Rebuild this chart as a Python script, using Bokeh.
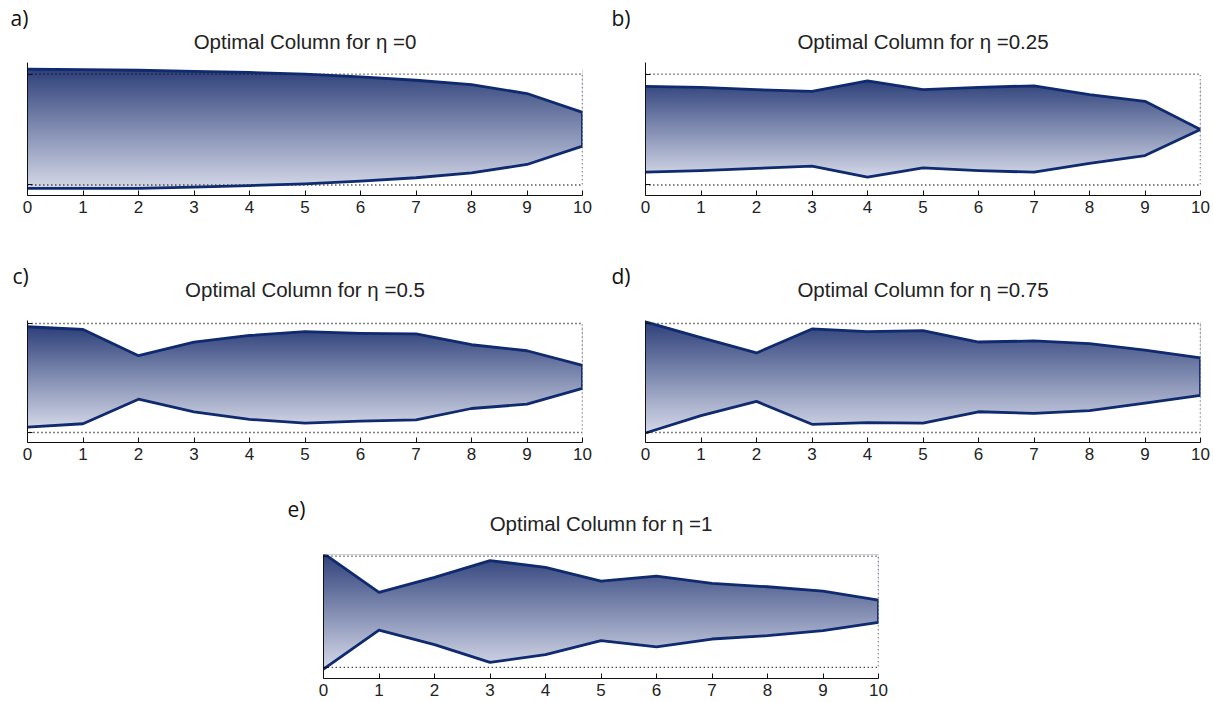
import numpy as np
from bokeh.plotting import figure
from bokeh.layouts import column, row
from bokeh.models import FixedTicker, Title, Spacer
from bokeh.embed import file_html
from bokeh.resources import INLINE

# ---------------- data ----------------
stations = [0, 1, 2, 3, 4, 5, 6, 7, 8, 9, 10]
x_ticks = [0, 1, 2, 3, 4, 5, 6, 7, 8, 9, 10]
y_ticks = [-1, 1]
eta_labels = ["0", "0.25", "0.5", "0.75", "1"]
panel_tags = ["a)", "b)", "c)", "d)", "e)"]

upper_a = [1.09, 1.08, 1.07, 1.05, 1.03, 1.00, 0.95, 0.89, 0.81, 0.65, 0.31]
lower_a = [-1.06, -1.06, -1.06, -1.04, -1.01, -0.98, -0.93, -0.87, -0.78, -0.63, -0.30]

upper_b = [0.78, 0.76, 0.72, 0.69, 0.88, 0.72, 0.76, 0.79, 0.63, 0.51, 0.0]
lower_b = [-0.77, -0.74, -0.70, -0.66, -0.86, -0.69, -0.74, -0.77, -0.61, -0.47, 0.0]

upper_c = [0.94, 0.89, 0.41, 0.66, 0.78, 0.85, 0.82, 0.81, 0.61, 0.50, 0.23]
lower_c = [-0.90, -0.84, -0.39, -0.62, -0.76, -0.83, -0.79, -0.77, -0.56, -0.48, -0.19]

upper_d = [1.03, 0.74, 0.46, 0.90, 0.85, 0.87, 0.66, 0.68, 0.63, 0.51, 0.37]
lower_d = [-1.01, -0.69, -0.43, -0.85, -0.82, -0.83, -0.62, -0.65, -0.60, -0.46, -0.32]

upper_e = [1.05, 0.35, 0.62, 0.92, 0.80, 0.55, 0.64, 0.51, 0.45, 0.37, 0.21]
lower_e = [-1.03, -0.33, -0.59, -0.91, -0.77, -0.52, -0.63, -0.49, -0.43, -0.34, -0.19]

# bounding (dotted) box of admissible shapes
box_x = [0, 10, 10, 0]
box_y = [1, 1, -1, -1]

# ---------------- style ----------------
TOP_RGB = (46, 64, 122)
BOT_RGB = (214, 218, 233)
OUTLINE = "#0f2a6e"
TXT = "#222222"


def gradient_image(n=256):
    t = np.linspace(0.0, 1.0, n)  # row 0 = bottom
    img = np.empty((n, 2), dtype=np.uint32)
    view = img.view(dtype=np.uint8).reshape((n, 2, 4))
    for c in range(3):
        col = BOT_RGB[c] + (TOP_RGB[c] - BOT_RGB[c]) * t
        view[:, :, c] = np.round(col)[:, None].astype(np.uint8)
    view[:, :, 3] = 255
    return img


def make_panel(tag, eta, upper, lower, yr, w, h, bl, br, bt, bb,
               title_standoff, tag_dx, tag_standoff):
    p = figure(width=w, height=h, x_range=(0, 10), y_range=yr,
               output_backend="svg", toolbar_location=None,
               min_border_left=bl, min_border_right=br,
               min_border_top=bt, min_border_bottom=bb,
               background_fill_color="white", border_fill_color="white",
               title=tag)
    p.outline_line_color = None
    p.grid.visible = False

    # panel tag (outermost title)
    p.title.align = "left"
    p.title.offset = tag_dx
    p.title.text_font = "Open Sans"
    p.title.text_font_size = "21px"
    p.title.text_font_style = "normal"
    p.title.text_color = "#111111"
    p.title.standoff = tag_standoff

    # main title (closest to the plot frame)
    p.add_layout(Title(text=f"Optimal Column for \u03b7 ={eta}", align="center",
                       text_font="Liberation Sans", text_font_size="20.5px",
                       text_font_style="normal", text_color=TXT,
                       standoff=title_standoff), "above")

    ymax = max(max(upper), -min(lower))
    p.image_rgba(image=[gradient_image()], x=0, y=-ymax, dw=10, dh=2 * ymax)
    top_fill = [yr[1] + 1] * len(stations)
    bot_fill = [yr[0] - 1] * len(stations)
    p.varea(x=stations, y1=upper, y2=top_fill, fill_color="white")
    p.varea(x=stations, y1=bot_fill, y2=lower, fill_color="white")

    p.line(box_x, box_y, line_dash="1 3", line_color="#000000", line_width=1.4)

    ox = stations + stations[::-1]
    oy = upper + lower[::-1]
    p.line(ox, oy, line_color=OUTLINE, line_width=2.8, line_join="round")

    # axes
    p.xaxis.ticker = FixedTicker(ticks=x_ticks)
    p.yaxis.ticker = FixedTicker(ticks=y_ticks)
    for ax in (p.xaxis, p.yaxis):
        ax.major_tick_in = 5
        ax.major_tick_out = 0
        ax.minor_tick_line_color = None
        ax.axis_line_color = "#111111"
        ax.major_tick_line_color = "#111111"
        ax.axis_line_width = 1
    p.xaxis.major_label_text_font = "Liberation Sans"
    p.xaxis.major_label_text_font_size = "17px"
    p.xaxis.major_label_text_color = TXT
    p.xaxis.major_label_standoff = 5
    p.yaxis.major_label_overrides = {-1: "", 1: ""}
    p.yaxis.major_label_standoff = 0
    return p


pa = make_panel(panel_tags[0], eta_labels[0], upper_a, lower_a, (-1.19, 1.21),
                610, 250, 27, 28, 62, 55, 19, -17, -26)
pb = make_panel(panel_tags[1], eta_labels[1], upper_b, lower_b, (-1.19, 1.21),
                603, 250, 35, 13, 62, 55, 19, -34, -26)
pc = make_panel(panel_tags[2], eta_labels[2], upper_c, lower_c, (-1.184, 1.055),
                610, 239, 27, 28, 70, 47, 39, -15, -66)
pd = make_panel(panel_tags[3], eta_labels[3], upper_d, lower_d, (-1.184, 1.055),
                603, 239, 35, 13, 70, 47, 39, -34, -66)
pe = make_panel(panel_tags[4], eta_labels[4], upper_e, lower_e, (-1.20, 1.03),
                646, 213, 63, 28, 65, 24, 39, -36, -64)

layout = column(row(pa, pb), row(pc, pd), row(Spacer(width=260, height=213), pe))

open("out.html", "w").write(file_html(layout, INLINE))
